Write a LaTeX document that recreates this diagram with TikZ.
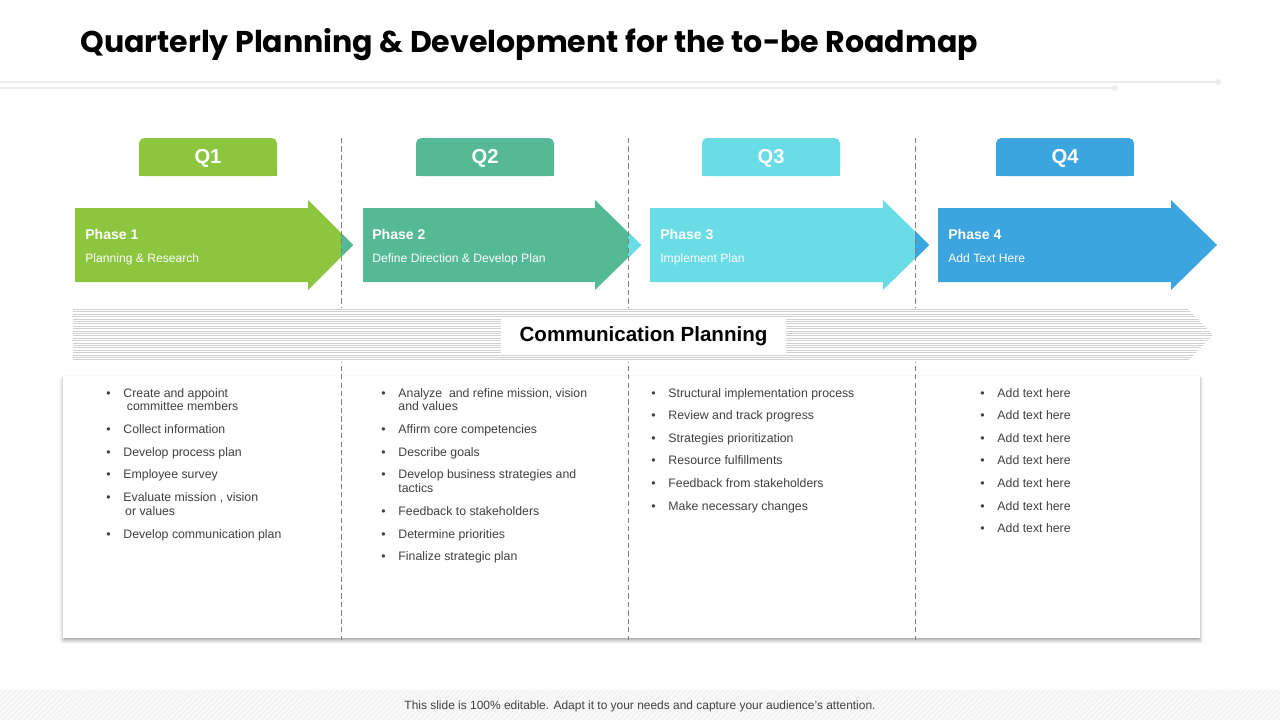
\documentclass[tikz,border=0pt]{standalone}
\usepackage{fontspec}
\setmainfont{Liberation Sans}
\newfontfamily\headfont{Poppins}
\usepackage{xcolor}
\usetikzlibrary{positioning,shadows.blur,patterns}
\definecolor{qgreen}{RGB}{140,198,63}
\definecolor{qteal}{RGB}{85,185,150}
\definecolor{qcyan}{RGB}{105,220,230}
\definecolor{qblue}{RGB}{60,165,224}
\definecolor{rulegray}{RGB}{236,236,236}
\definecolor{bandgray}{RGB}{208,208,208}
\definecolor{bodytext}{RGB}{64,64,64}
\definecolor{footgray}{RGB}{244,244,244}
\tikzset{
  headline/.style={anchor=base west,inner sep=0pt,font=\headfont\fontsize{17.1}{20}\selectfont\bfseries},
  toprule/.style={draw=rulegray,line width=1.1pt},
  tabtop/.style={rounded corners=3pt},
  qlabel/.style={inner sep=0pt,text=white,font=\fontsize{11.5}{13}\selectfont\bfseries},
  phtitle/.style={anchor=base west,inner sep=0pt,text=white,font=\fontsize{8}{9}\selectfont\bfseries},
  phsub/.style={anchor=base west,inner sep=0pt,text=white,font=\fontsize{6.9}{8}\selectfont},
  divider/.style={draw=gray,line width=0.5pt,dash pattern=on 3pt off 1.8pt},
  bandline/.style={draw=bandgray,line width=0.6pt},
  commlabel/.style={fill=white,minimum width=5.7cm,minimum height=0.72cm,
                    font=\fontsize{11.7}{14}\selectfont\bfseries},
  bullets/.style={anchor=base west,inner sep=0pt,text=bodytext,font=\fontsize{7}{7.9}\selectfont},
  footnote/.style={inner sep=0pt,text=bodytext,font=\fontsize{6.8}{8}\selectfont},
}

\begin{document}
\begin{tikzpicture}[x=0.02cm,y=-0.02cm]
  \useasboundingbox (0,0) rectangle (1280,720);

  % heading
  \node[headline] (title) at (80,52) {Quarterly Planning \& Development for the to-be Roadmap};
  \draw[toprule] (0,82) -- (1218,82);
  \draw[toprule] (0,88) -- (1115,88);
  \fill[rulegray] (1218,82) circle[radius=3];
  \fill[rulegray] (1115,88) circle[radius=3];

  % quarter tabs (rounded on top only)
  \fill[qgreen,tabtop] (139,138) rectangle (277,176);
  \fill[qgreen] (139,160) rectangle (277,176);
  \fill[qteal,tabtop] (416,138) rectangle (554,176);
  \fill[qteal] (416,160) rectangle (554,176);
  \fill[qcyan,tabtop] (702,138) rectangle (840,176);
  \fill[qcyan] (702,160) rectangle (840,176);
  \fill[qblue,tabtop] (996,138) rectangle (1134,176);
  \fill[qblue] (996,160) rectangle (1134,176);
  \node[qlabel] (q1) at (208,158.5) {Q1};
  \node[qlabel] (q2) at (485,158.5) {Q2};
  \node[qlabel] (q3) at (771,158.5) {Q3};
  \node[qlabel] (q4) at (1065,158.5) {Q4};

  % phase arrows
  \fill[qgreen] (75,208) -- (308,208) -- (308,200) -- (353,245) -- (308,290) -- (308,282) -- (75,282) -- cycle;
  \fill[qteal] (363,208) -- (595,208) -- (595,200) -- (641,245) -- (595,290) -- (595,282) -- (363,282) -- cycle;
  \fill[qcyan] (650,208) -- (883,208) -- (883,200) -- (929,245) -- (883,290) -- (883,282) -- (650,282) -- cycle;
  \fill[qblue] (938,208) -- (1171,208) -- (1171,200) -- (1217,245) -- (1171,290) -- (1171,282) -- (938,282) -- cycle;
  \fill[qteal] (341,233) -- (353,245) -- (341,257) -- cycle;
  \fill[qcyan] (628,232) -- (641,245) -- (628,258) -- cycle;
  \fill[qblue] (915,231) -- (929,245) -- (915,259) -- cycle;
  \node[phtitle] (ph1) at (85,239) {Phase 1};
  \node[phsub] (ph1s) at (85,262) {Planning \& Research};
  \node[phtitle] (ph2) at (372,239) {Phase 2};
  \node[phsub] (ph2s) at (372,262) {Define Direction \& Develop Plan};
  \node[phtitle] (ph3) at (660,239) {Phase 3};
  \node[phsub] (ph3s) at (660,262) {Implement Plan};
  \node[phtitle] (ph4) at (948,239) {Phase 4};
  \node[phsub] (ph4s) at (948,262) {Add Text Here};

  % activity panel
  \fill[white,blur shadow={shadow xshift=0pt,shadow yshift=-1.5pt,shadow blur radius=2pt,shadow opacity=35}]
    (63,376) rectangle (1200,638);
  \draw[divider] (341,138) -- (341,640);
  \draw[divider] (628,138) -- (628,640);
  \draw[divider] (915,138) -- (915,640);

  % communication band
  \fill[white] (73,308) -- (1187,308) -- (1213,335) -- (1187,362) -- (73,362) -- cycle;
  \begin{scope}
    \clip (73,308) -- (1187,308) -- (1213,335) -- (1187,362) -- (73,362) -- cycle;
    \foreach \y in {309.5,311.9,...,362} \draw[bandline] (73,\y) -- (1213,\y);
  \end{scope}
  \node[commlabel] (comm) at (643.5,336.5) {Communication Planning\hspace{6pt}};

  % bullet lists
  \node[bullets] (list1) at (106,397) {\begin{tabular}[t]{@{}l@{\hspace{7.3pt}}l@{}}
    \textbullet & Create and appoint\\
                & \hspace{2pt}committee members\\[5pt]
    \textbullet & Collect information\\[5pt]
    \textbullet & Develop process plan\\[5pt]
    \textbullet & Employee survey\\[5pt]
    \textbullet & Evaluate mission , vision\\
                & \hspace{1pt}or values\\[5pt]
    \textbullet & Develop communication plan
  \end{tabular}};
  \node[bullets] (list2) at (381,397) {\begin{tabular}[t]{@{}l@{\hspace{7.3pt}}l@{}}
    \textbullet & Analyze\ \ and refine mission, vision\\
                & and values\\[5pt]
    \textbullet & Affirm core competencies\\[5pt]
    \textbullet & Describe goals\\[5pt]
    \textbullet & Develop business strategies and\\
                & tactics\\[5pt]
    \textbullet & Feedback to stakeholders\\[5pt]
    \textbullet & Determine priorities\\[5pt]
    \textbullet & Finalize strategic plan
  \end{tabular}};
  \node[bullets] (list3) at (651,397) {\begin{tabular}[t]{@{}l@{\hspace{7.3pt}}l@{}}
    \textbullet & Structural implementation process\\[5pt]
    \textbullet & Review and track progress\\[5pt]
    \textbullet & Strategies prioritization\\[5pt]
    \textbullet & Resource fulfillments\\[5pt]
    \textbullet & Feedback from stakeholders\\[5pt]
    \textbullet & Make necessary changes
  \end{tabular}};
  \node[bullets] (list4) at (980,397) {\begin{tabular}[t]{@{}l@{\hspace{7.3pt}}l@{}}
    \textbullet & Add text here\\[5pt]
    \textbullet & Add text here\\[5pt]
    \textbullet & Add text here\\[5pt]
    \textbullet & Add text here\\[5pt]
    \textbullet & Add text here\\[5pt]
    \textbullet & Add text here\\[5pt]
    \textbullet & Add text here
  \end{tabular}};

  % footer
  \fill[footgray] (0,690) rectangle (1280,720);
  \fill[pattern=north east lines,pattern color=white] (0,690) rectangle (1280,720);
  \node[footnote] (foot) at (640,706) {This slide is 100\% editable. Adapt it to your needs and capture your audience's attention.};
\end{tikzpicture}
\end{document}
